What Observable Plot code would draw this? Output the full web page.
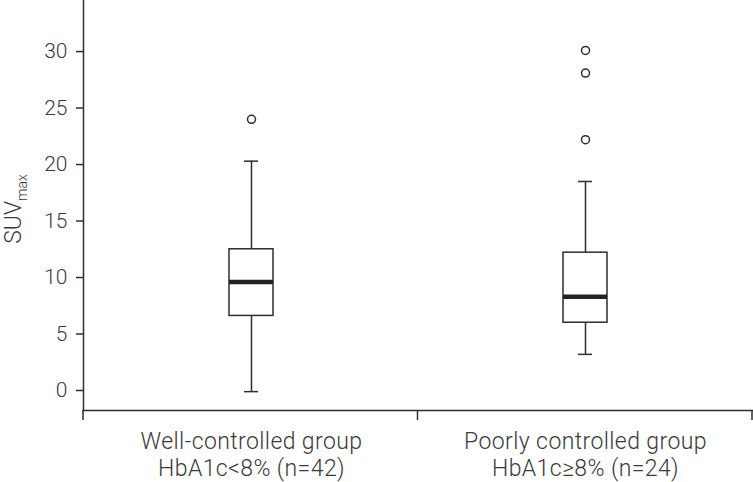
<!DOCTYPE html>
<html>
<head>
<meta charset="utf-8">
<script src="https://cdn.jsdelivr.net/npm/d3@7"></script>
<script src="https://cdn.jsdelivr.net/npm/@observablehq/plot@0.6"></script>
<style>
  html, body { margin: 0; padding: 0; background: #fff; }
  #chart svg { display: block; }
</style>
</head>
<body>
<div id="chart"></div>
<script>
// ---- data ----
const groups = ["Well-controlled group\nHbA1c<8% (n=42)", "Poorly controlled group\nHbA1c≥8% (n=24)"];
const whiskerLow  = [-0.1, 3.2];
const q1          = [6.6, 6.0];
const median      = [9.6, 8.3];
const q3          = [12.5, 12.2];
const whiskerHigh = [20.3, 18.5];
const outlierGroup = [0, 1, 1, 1];
const outlierValue = [24.0, 22.2, 28.1, 30.1];
const yTicks = [0, 5, 10, 15, 20, 25, 30];

const stats = groups.map((g, i) => ({
  group: g, lo: whiskerLow[i], q1: q1[i], med: median[i], q3: q3[i], hi: whiskerHigh[i]
}));
const outliers = outlierGroup.map((gi, i) => ({group: groups[gi], value: outlierValue[i]}));

const ink = "#2e2e2e";
const textInk = "#3a3a3a";
const font = "Roboto, 'Liberation Sans', sans-serif";

function boundaryTicks(index, scales, values, dims) {
  const {width, height, marginLeft, marginRight, marginBottom} = dims;
  const y0 = height - marginBottom;
  const xs = [marginLeft, (marginLeft + width - marginRight) / 2, width - marginRight];
  const g = d3.create("svg:g");
  for (const xv of xs) {
    g.append("line").attr("x1", xv).attr("x2", xv).attr("y1", y0).attr("y2", y0 + 10)
      .attr("stroke", ink).attr("stroke-width", 1.5);
  }
  return g.node();
}

const chart = Plot.plot({
  width: 753,
  height: 482,
  marginLeft: 83,
  marginRight: 1,
  marginTop: 0,
  marginBottom: 72,
  style: {fontFamily: font, fontWeight: 300, color: textInk, background: "#fff"},
  x: {type: "band", domain: groups, paddingInner: 0.8685, paddingOuter: 0.434, axis: null},
  y: {domain: [-1.77, 34.52], axis: null},
  marks: [
    Plot.axisY({ticks: yTicks, tickSize: 7, tickPadding: 9, fontSize: 21, label: null,
                stroke: ink, strokeWidth: 1.5, fill: textInk, fontWeight: 300}),
    Plot.frame({anchor: "left", stroke: ink, strokeWidth: 1.5}),
    Plot.frame({anchor: "bottom", stroke: ink, strokeWidth: 1.5}),
    boundaryTicks,
    Plot.ruleX(stats, {x: "group", y1: "lo", y2: "q1", stroke: ink, strokeWidth: 1.5}),
    Plot.ruleX(stats, {x: "group", y1: "q3", y2: "hi", stroke: ink, strokeWidth: 1.5}),
    Plot.tickY(stats, {x: "group", y: "lo", insetLeft: 15, insetRight: 15, stroke: ink, strokeWidth: 1.5}),
    Plot.tickY(stats, {x: "group", y: "hi", insetLeft: 15, insetRight: 15, stroke: ink, strokeWidth: 1.5}),
    Plot.barY(stats, {x: "group", y1: "q1", y2: "q3", fill: "white", stroke: ink, strokeWidth: 1.5}),
    Plot.tickY(stats, {x: "group", y: "med", stroke: "#222", strokeWidth: 4.5}),
    Plot.dot(outliers, {x: "group", y: "value", r: 4, fill: "white", stroke: ink, strokeWidth: 1.5}),
    Plot.text(groups, {x: d => d, frameAnchor: "bottom", lineAnchor: "top", dy: 20, fontSize: 23,
                       lineHeight: 1.15, fill: textInk, fontWeight: 300})
  ]
});

const svg = d3.select(chart);
svg.selectAll("text").filter(function() { return this.textContent.includes("group"); })
  .style("letter-spacing", "0.4px");
// y-axis label with subscript
const lab = svg.append("text")
  .attr("transform", "translate(21,209) rotate(-90)")
  .attr("text-anchor", "middle")
  .attr("fill", textInk)
  .style("font-family", font)
  .style("font-weight", 300);
lab.append("tspan").attr("font-size", 23).text("SUV");
lab.append("tspan").attr("font-size", 14).attr("dy", 6).text("max");

document.getElementById("chart").appendChild(chart);
</script>
</body>
</html>
